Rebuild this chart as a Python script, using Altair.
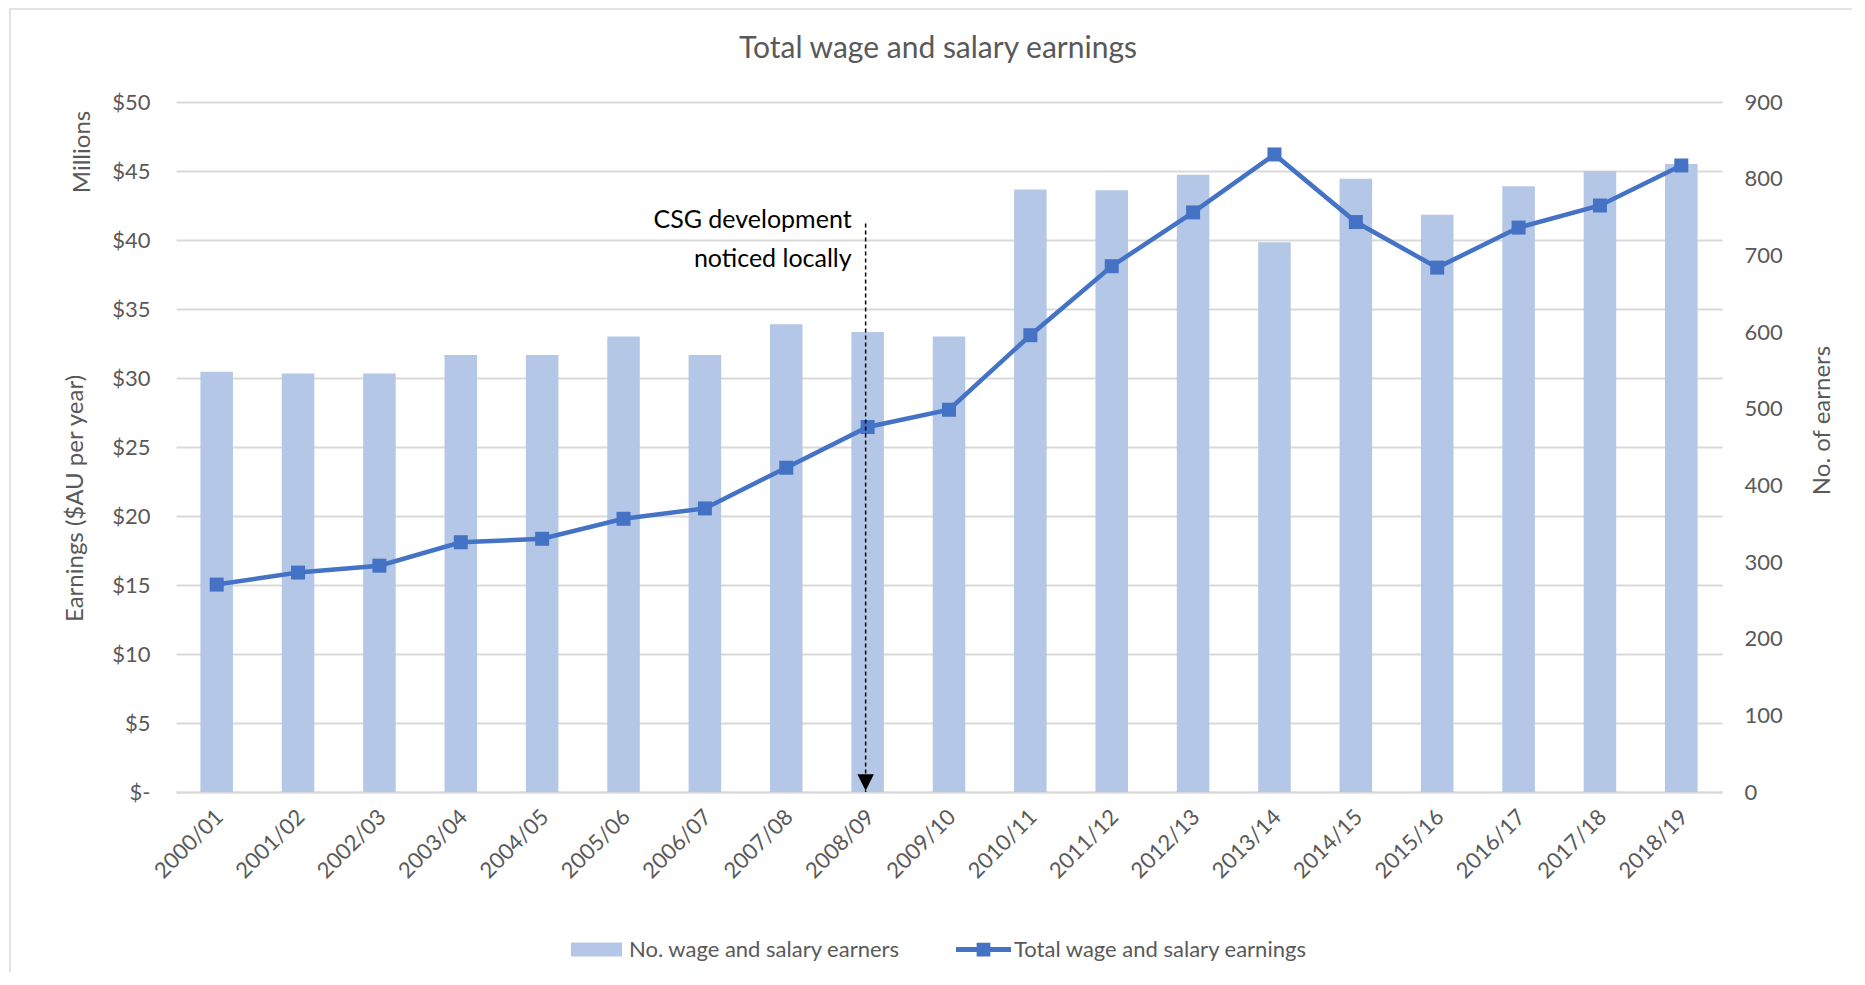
import altair as alt
import pandas as pd

years = ["2000/01", "2001/02", "2002/03", "2003/04", "2004/05", "2005/06", "2006/07",
         "2007/08", "2008/09", "2009/10", "2010/11", "2011/12", "2012/13", "2013/14",
         "2014/15", "2015/16", "2016/17", "2017/18", "2018/19"]
earners = [548, 546, 546, 570, 570, 594, 570, 610, 600, 594, 786, 785, 805, 717, 800, 753, 790, 810, 819]
earnings = [15.03, 15.9, 16.4, 18.1, 18.35, 19.8, 20.55, 23.5, 26.45, 27.7, 33.1, 38.1, 42.0, 46.2,
            41.3, 38.0, 40.9, 42.5, 45.4]
bar_name = "No. wage and salary earners"
line_name = "Total wage and salary earnings"
chart_title = "Total wage and salary earnings"
left_title = "Earnings ($AU per year)"
right_title = "No. of earners"
units_label = "Millions"
left_ticks = [0, 5, 10, 15, 20, 25, 30, 35, 40, 45, 50]
right_ticks = [0, 100, 200, 300, 400, 500, 600, 700, 800, 900]
annot_year = "2008/09"
annot_top = 41.2
annot_lines = ["CSG development", "noticed locally"]

df = pd.DataFrame({"year": years, "earners": earners, "earnings": earnings,
                   "bar_series": bar_name, "line_series": line_name})
ann_df = pd.DataFrame({"year": [annot_year], "top": [annot_top], "bottom": [0.0],
                       "label": [annot_lines]})
one = pd.DataFrame({"a": [0]})

FONT = "Lato"
GRAY = "#595959"
GRID = "#d9d9d9"
BAR_C = "#b4c7e7"
LINE_C = "#4472c4"
W, H = 1546, 690

x_enc = alt.X("year:N", sort=years,
              scale=alt.Scale(paddingInner=0.6, paddingOuter=0.3),
              axis=alt.Axis(title=None, labelAngle=-45, labelAlign="right", labelBaseline="middle",
                            labelPadding=21, labelOffset=3, domain=True, domainColor=GRID,
                            domainWidth=2, grid=False, ticks=False))

bars = alt.Chart(df).mark_bar().encode(
    x=x_enc,
    y=alt.Y("earners:Q", scale=alt.Scale(domain=[0, 900]),
            axis=alt.Axis(orient="right", values=right_ticks, title=right_title,
                          titleX=100, titleY=318, titleAngle=270, titleBaseline="middle",
                          titleAlign="center", labelPadding=22, grid=False)),
    color=alt.Color("bar_series:N", scale=alt.Scale(domain=[bar_name], range=[BAR_C]),
                    legend=alt.Legend(orient="none", legendX=395, legendY=822, title=None,
                                      symbolType="M-1,-0.27H1V0.27H-1Z", symbolSize=2601,
                                      symbolStrokeWidth=0, labelOffset=7, padding=0,
                                      labelLimit=600,
                                      labelFont=FONT, labelFontSize=22, labelColor=GRAY)),
)

line = alt.Chart(df).mark_line(color=LINE_C, strokeWidth=4.5).encode(
    x=x_enc,
    y=alt.Y("earnings:Q", scale=alt.Scale(domain=[0, 50]),
            axis=alt.Axis(orient="left", values=left_ticks, title=left_title,
                          labelExpr="datum.value == 0 ? '$-' : '$' + datum.value",
                          titleX=-101, titleY=396, titleAngle=270, titleBaseline="middle",
                          titleAlign="center", labelPadding=26, grid=True)),
)

points = alt.Chart(df).mark_square(size=196, opacity=1, filled=True).encode(
    x=x_enc,
    y=alt.Y("earnings:Q"),
    color=alt.Color("line_series:N", scale=alt.Scale(domain=[line_name], range=[LINE_C]),
                    legend=alt.Legend(orient="none", legendX=780, legendY=820, title=None,
                                      symbolType="M-1,-0.09H1V0.09H-1Z M-0.25,-0.25H0.25V0.25H-0.25Z",
                                      symbolSize=3025, symbolStrokeWidth=0, labelOffset=3,
                                      padding=0, labelLimit=600, labelFont=FONT, labelFontSize=22,
                                      labelColor=GRAY)),
)

rule = alt.Chart(ann_df).mark_rule(color="black", strokeWidth=1.5, strokeDash=[4, 3], xOffset=-2).encode(
    x=alt.X("year:N", sort=years), y=alt.Y("top:Q"), y2="bottom:Q")

arrow = alt.Chart(ann_df).mark_point(shape="M-1,-1L1,-1L0,1Z", size=272, filled=True,
                                     opacity=1, color="black", xOffset=-2, yOffset=-9.5).encode(
    x=alt.X("year:N", sort=years), y=alt.Y("bottom:Q"))

ann_text = alt.Chart(ann_df).mark_text(align="right", baseline="alphabetic", dx=-16, dy=5,
                                       fontSize=25, font=FONT, color="black", lineHeight=39).encode(
    x=alt.X("year:N", sort=years), y=alt.Y("top:Q"), text="label")

units = alt.Chart(one).mark_text(angle=270, fontSize=24, font=FONT, color=GRAY,
                                 align="center", baseline="middle").encode(
    x=alt.value(-93), y=alt.value(50), text=alt.value(units_label))

border = alt.Chart(one).mark_rect(fillOpacity=0, stroke=GRID, strokeWidth=1.5).encode(
    x=alt.value(-166), x2=alt.value(W + 400), y=alt.value(-93), y2=alt.value(H + 400))

inner = alt.layer(line, points, rule, arrow, ann_text, units, border)

chart = alt.layer(bars, inner).resolve_scale(y="independent", color="independent").properties(
    width=W, height=H,
    title=alt.TitleParams(chart_title, fontSize=30, font=FONT, color=GRAY, fontWeight="normal",
                          anchor="middle", frame="group", dx=-11, offset=-70.5, baseline="middle"),
    autosize=alt.AutoSizeParams(type="none"),
    padding={"left": 168, "top": 94, "right": 130, "bottom": 180},
).configure_axis(
    labelFont=FONT, labelFontSize=22, labelColor=GRAY, titleFont=FONT, titleFontSize=24,
    titleColor=GRAY, titleFontWeight="normal", ticks=False, domain=False,
    gridColor=GRID, gridWidth=2,
).configure_view(stroke=None)

chart.save("out.html", embed_options={"renderer": "svg", "actions": False})
